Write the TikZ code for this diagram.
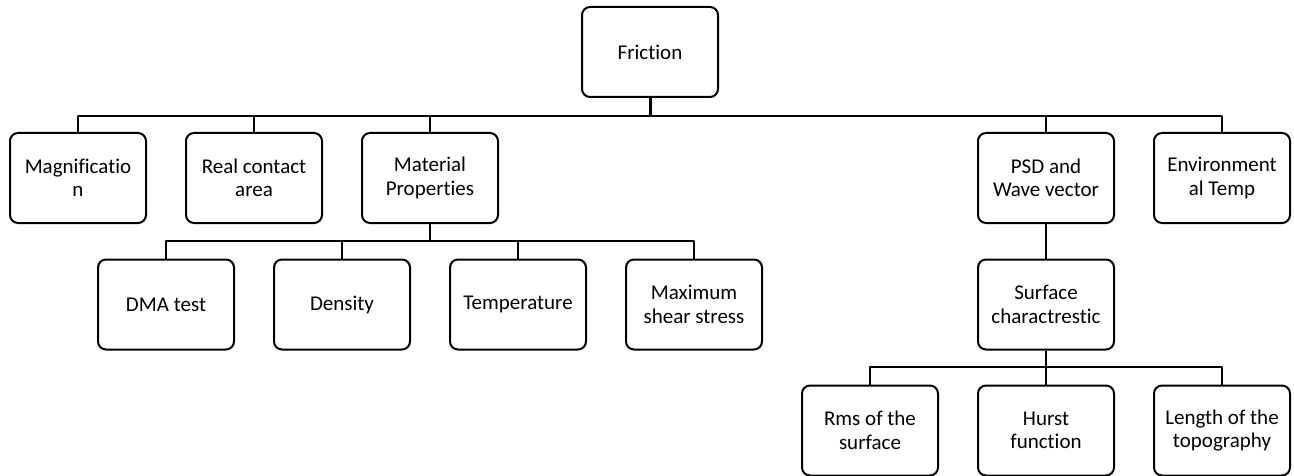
\documentclass[tikz,border=0pt]{standalone}
\usepackage{fontspec}
\setmainfont{Carlito}[Ligatures=NoCommon]
\begin{document}
\begin{tikzpicture}[x=1pt,y=-1pt,line join=round,
		box/.style={draw,line width=2pt,rounded corners=8pt,minimum width=136pt,minimum height=90pt,
			inner sep=0pt,align=center,font=\fontsize{21}{23.5}\selectfont},
		link/.style={line width=1.5pt}]
	\useasboundingbox (0,0) rectangle (1294,476);
	\def\ya{178} \def\yb{304.5} \def\yc{430.5}
	% root
	\node[box] (fric) at (650,52) {Friction};
	% first level
	\node[box] (mag) at (78,\ya) {Magnificatio\\n};
	\node[box] (real) at (254,\ya) {Real contact\\area};
	\node[box] (mat) at (430,\ya) {Material\\Properties};
	\node[box] (psd) at (1046,\ya) {PSD and\\Wave vector};
	\node[box] (env) at (1222,\ya) {Environment\\al Temp};
	% material branch
	\node[box] (dma) at (166,\yb) {DMA test};
	\node[box] (dens) at (342,\yb) {Density};
	\node[box] (temp) at (518,\yb) {Temperature};
	\node[box] (shear) at (694,\yb) {Maximum\\shear stress};
	% surface branch
	\node[box] (surf) at (1046,\yb) {Surface\\charactrestic};
	\node[box] (rms) at (870,\yc) {Rms of the\\surface};
	\node[box] (hurst) at (1046,\yc) {Hurst\\function};
	\node[box] (topo) at (1222,\yc) {Length of the\\topography};
	% bus bars
	\coordinate (b1) at (650,116);
	\coordinate (b2) at (430,241);
	\coordinate (b3) at (1046,367);
	\draw[link,line width=3pt] (fric) -- (b1);
	\draw[link] (mag.north) |- (b1) -| (env.north);
	\foreach \n in {real,mat,psd} \draw[link] (\n.north) -- (\n.north |- b1);
	\draw[link] (mat) -- (b2);
	\draw[link] (dma.north) |- (b2) -| (shear.north);
	\foreach \n in {dens,temp} \draw[link] (\n.north) -- (\n.north |- b2);
	\draw[link] (psd) -- (surf);
	\draw[link] (surf) -- (hurst);
	\draw[link] (rms.north) |- (b3) -| (topo.north);
\end{tikzpicture}
\end{document}
